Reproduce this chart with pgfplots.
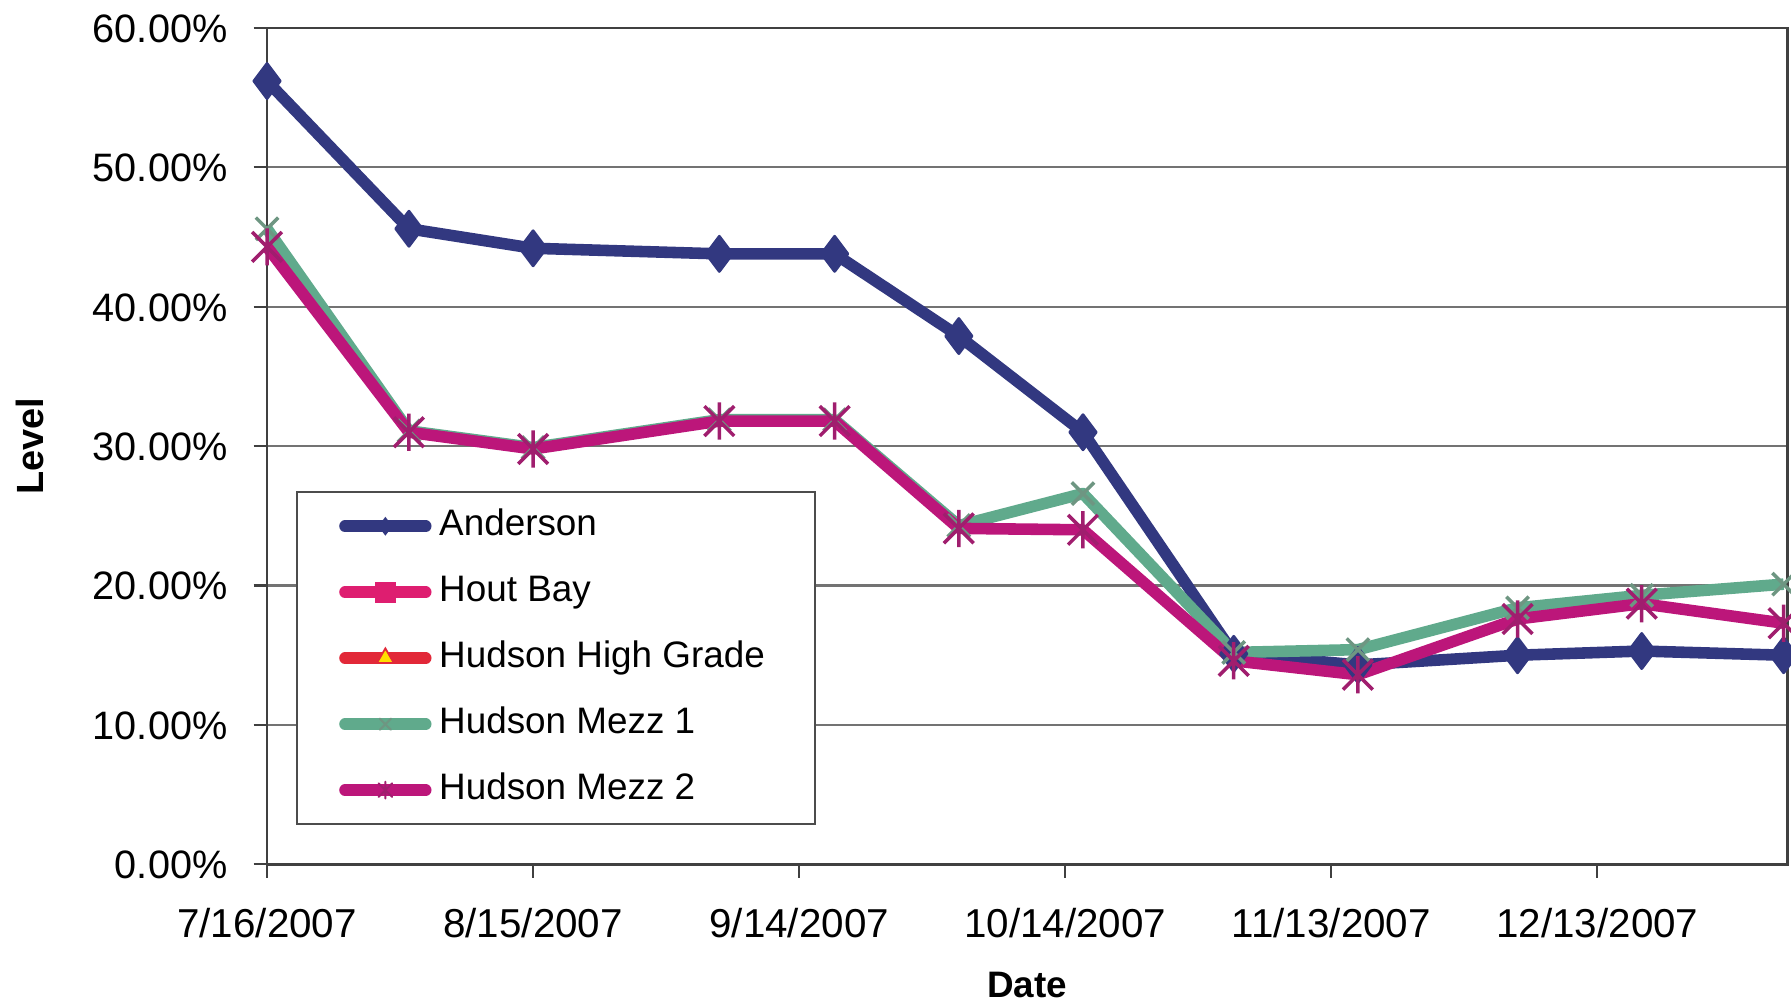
\documentclass[border=0pt]{standalone}
\usepackage{fontspec}
\setmainfont{Liberation Sans}
\usepackage{pgfplots}
\usepackage{pgfplotstable}
\pgfplotsset{compat=1.18}

\definecolor{cAnd}{RGB}{50,56,128}
\definecolor{cHout}{RGB}{222,30,112}
\definecolor{cHHG}{RGB}{226,40,56}
\definecolor{cYel}{RGB}{255,222,0}
\definecolor{cMa}{RGB}{96,170,140}
\definecolor{cMam}{RGB}{110,150,130}
\definecolor{cMb}{RGB}{188,22,122}
\definecolor{cMbm}{RGB}{160,30,110}

\pgfdeclareplotmark{xstar}{%
  \pgfpathmoveto{\pgfqpoint{0pt}{\pgfplotmarksize}}%
  \pgfpathlineto{\pgfqpoint{0pt}{-\pgfplotmarksize}}%
  \pgfpathmoveto{\pgfqpoint{-.8\pgfplotmarksize}{-.8\pgfplotmarksize}}%
  \pgfpathlineto{\pgfqpoint{.8\pgfplotmarksize}{.8\pgfplotmarksize}}%
  \pgfpathmoveto{\pgfqpoint{-.8\pgfplotmarksize}{.8\pgfplotmarksize}}%
  \pgfpathlineto{\pgfqpoint{.8\pgfplotmarksize}{-.8\pgfplotmarksize}}%
  \pgfusepathqstroke}

\pgfplotstableread{
day val
0 56.2
16 45.6
30 44.2
51 43.8
64 43.8
78 37.9
92 31.0
109 15.1
123 14.3
141 15.0
155 15.3
171 15.0
}\andersondata

\pgfplotstableread{
day val
0 45.6
16 31.1
30 29.9
51 31.9
64 31.9
78 24.3
92 26.6
109 15.2
123 15.4
141 18.4
155 19.3
171 20.1
}\mezzonedata

\pgfplotstableread{
day val
0 44.3
16 31.0
30 29.8
51 31.8
64 31.8
78 24.1
92 24.0
109 14.6
123 13.6
141 17.6
155 18.7
171 17.3
}\mezztwodata

\begin{document}
\begin{tikzpicture}
\begin{axis}[
  scale only axis, width=433.2pt, height=238.3pt,
  xmin=0, xmax=171.4, ymin=0, ymax=60,
  clip=false,
  xtick={0,30,60,90,120,150},
  xticklabels={7/16/2007,8/15/2007,9/14/2007,10/14/2007,11/13/2007,12/13/2007},
  ytick={0,10,20,30,40,50,60},
  yticklabels={0.00\%,10.00\%,20.00\%,30.00\%,40.00\%,50.00\%,60.00\%},
  xtick pos=bottom, ytick pos=left,
  tick align=outside, major tick length=3.8pt,
  tick style={black!75, line width=0.6pt},
  ymajorgrids, major grid style={black!55, line width=0.6pt},
  axis line style={black!75, line width=0.8pt},
  xticklabel style={font=\fontsize{11.5}{13}\selectfont, text height=8.2pt, text depth=0pt, inner sep=0pt, anchor=north, yshift=-8.7pt},
  yticklabel style={font=\fontsize{11.3}{13}\selectfont, text height=8.1pt, text depth=0pt, inner sep=0pt, anchor=east, xshift=-7.3pt},
  xlabel={Date},
  xlabel style={font=\bfseries\fontsize{10.5}{12}\selectfont, at={(axis description cs:0.5,-0.1447)}, anchor=center},
  ylabel={Level},
  ylabel style={font=\bfseries\fontsize{10.8}{12}\selectfont, at={(axis description cs:-0.156,0.5)}, anchor=center},
  legend cell align=left,
  legend image code/.code={\draw[mark repeat=2,mark phase=2,#1] plot coordinates {(0pt,0pt) (11.5pt,0pt) (23pt,0pt)};},
  legend style={at={(0.0191,0.0467)}, anchor=south west, draw=black!70, line width=0.6pt,
    inner xsep=12pt, inner ysep=5pt, row sep=9.4pt,
    font=\fontsize{10.5}{12}\selectfont,
    nodes={inner xsep=2.2pt, inner ysep=0pt, text height=7.3pt, text depth=2.1pt}},
]
\addlegendimage{cAnd, line width=3.3pt, line cap=round, mark=diamond*, mark size=2.2pt, mark options={line width=0.6pt, fill=cAnd}}
\addlegendentry{Anderson}
\addlegendimage{cHout, line width=3.3pt, line cap=round, mark=square*, mark size=2.8pt, mark options={line width=0.4pt, fill=cHout}}
\addlegendentry{Hout Bay}
\addlegendimage{cHHG, line width=3.3pt, line cap=round, mark=triangle*, mark size=2.8pt, mark options={line width=0.5pt, draw=cHHG, fill=cYel}}
\addlegendentry{Hudson High Grade}
\addlegendimage{cMa, line width=3.3pt, line cap=round, mark=x, mark size=2.2pt, mark options={line width=0.6pt, draw=cMam}}
\addlegendentry{Hudson Mezz 1}
\addlegendimage{cMb, line width=3.3pt, line cap=round, mark=xstar, mark size=2.4pt, mark options={line width=0.6pt, draw=cMbm}}
\addlegendentry{Hudson Mezz 2}

\addplot[forget plot, cAnd, line width=3.3pt, line join=round, mark=diamond*, mark size=5pt,
  mark options={line width=0.8pt, fill=cAnd}] table[x=day, y=val] {\andersondata};
\addplot[forget plot, cMa, line width=3.3pt, line join=round, mark=x, mark size=4.5pt,
  mark options={line width=1pt, draw=cMam}] table[x=day, y=val] {\mezzonedata};
\addplot[forget plot, cMb, line width=3.3pt, line join=round, mark=xstar, mark size=5.3pt,
  mark options={line width=1pt, draw=cMbm}] table[x=day, y=val] {\mezztwodata};
\end{axis}
\pgfresetboundingbox
\path ([xshift=-76.1pt,yshift=-39.6pt]current axis.south west) rectangle ([xshift=1.1pt,yshift=8pt]current axis.north east);
\end{tikzpicture}
\end{document}
